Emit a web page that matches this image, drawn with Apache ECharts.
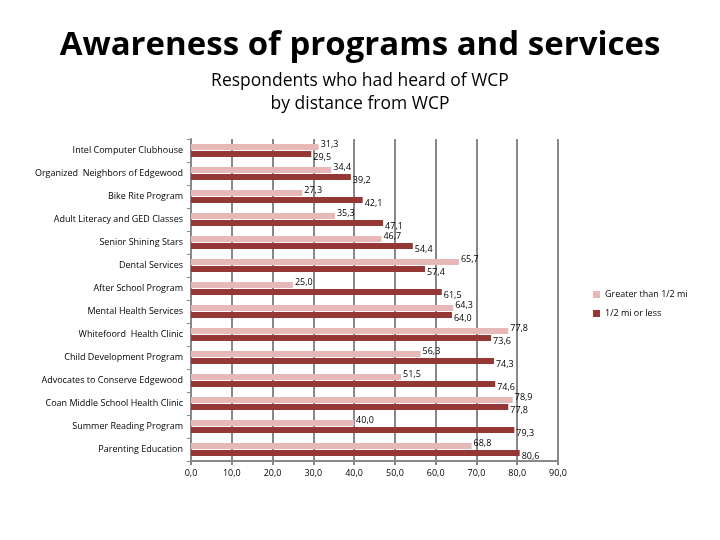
<!DOCTYPE html>
<html>
<head>
<meta charset="utf-8">
<script src="https://cdn.jsdelivr.net/npm/echarts@6/dist/echarts.min.js"></script>
<style>
  html, body { margin: 0; padding: 0; background: #fff; }
  #chart { width: 720px; height: 540px; }
</style>
</head>
<body>
<div id="chart"></div>
<script>
// programmes, top to bottom
var categories = [
  'Intel Computer Clubhouse',
  'Organized  Neighbors of Edgewood',
  'Bike Rite Program',
  'Adult Literacy and GED Classes',
  'Senior Shining Stars',
  'Dental Services',
  'After School Program',
  'Mental Health Services',
  'Whitefoord  Health Clinic',
  'Child Development Program',
  'Advocates to Conserve Edgewood',
  'Coan Middle School Health Clinic',
  'Summer Reading Program',
  'Parenting Education'
];
var greaterThanHalf = [31.3, 34.4, 27.3, 35.3, 46.7, 65.7, 25.0, 64.3, 77.8, 56.3, 51.5, 78.9, 40.0, 68.8];
var halfOrLess = [29.5, 39.2, 42.1, 47.1, 54.4, 57.4, 61.5, 64.0, 73.6, 74.3, 74.6, 77.8, 79.3, 80.6];

var fnt = 'Open Sans';
function comma(v) { return Number(v).toFixed(1).replace('.', ','); }

var chart = echarts.init(document.getElementById('chart'));
chart.setOption({
  animation: false,
  title: [{
    text: 'Awareness of programs and services',
    left: 'center', top: 24,
    textStyle: { fontFamily: fnt, fontSize: 33, fontWeight: 'bold', color: '#000' }
  }, {
    text: 'Respondents who had heard of WCP\nby distance from WCP',
    left: 'center', top: 65,
    textStyle: { fontFamily: fnt, fontSize: 17.5, fontWeight: 'normal', color: '#000', lineHeight: 23 }
  }],
  legend: {
    orient: 'vertical',
    left: 588, top: 285,
    itemWidth: 7, itemHeight: 7, itemGap: 10,
    icon: 'rect',
    textStyle: { fontFamily: fnt, fontSize: 9, color: '#000' },
    data: ['Greater than 1/2 mi', '1/2 mi or less']
  },
  grid: { left: 191, right: 162, top: 139, bottom: 79 },
  xAxis: {
    type: 'value', min: 0, max: 90, interval: 10,
    axisLine: { show: true, lineStyle: { color: '#888', width: 2 } },
    axisTick: { show: true, length: 4, lineStyle: { color: '#888', width: 2 } },
    splitLine: { show: true, lineStyle: { color: '#888', width: 2 } },
    axisLabel: { formatter: comma, fontFamily: fnt, fontSize: 9, color: '#000', margin: 8 }
  },
  yAxis: {
    type: 'category', inverse: true, data: categories,
    axisLine: { show: true, lineStyle: { color: '#888', width: 2 } },
    axisTick: { show: true, length: 4, lineStyle: { color: '#888', width: 1 } },
    axisLabel: { fontFamily: fnt, fontSize: 9, color: '#000', margin: 8 }
  },
  series: [{
    name: 'Greater than 1/2 mi', type: 'bar', data: greaterThanHalf,
    barWidth: 6, barGap: '15%',
    itemStyle: { color: '#E6B9B8' },
    label: { show: true, position: 'right', distance: 2, offset: [0, -3], formatter: function (p) { return comma(p.value); },
      fontFamily: fnt, fontSize: 9, color: '#000' }
  }, {
    name: '1/2 mi or less', type: 'bar', data: halfOrLess,
    barWidth: 6,
    itemStyle: { color: '#953735' },
    label: { show: true, position: 'right', distance: 2, offset: [0, 3], formatter: function (p) { return comma(p.value); },
      fontFamily: fnt, fontSize: 9, color: '#000' }
  }]
});
</script>
</body>
</html>
